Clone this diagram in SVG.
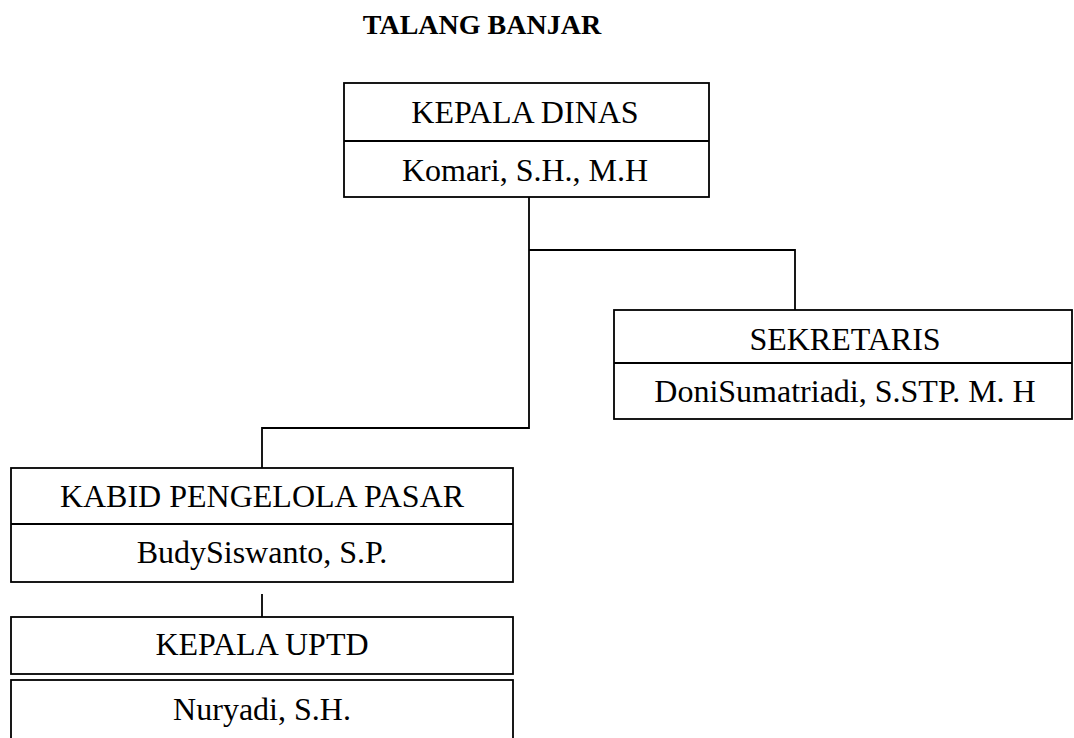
<svg xmlns="http://www.w3.org/2000/svg" width="1074" height="738" viewBox="0 0 1074 738">
<style>
.box{fill:#fff;stroke:#000;stroke-width:1.8}
.ln{fill:none;stroke:#000;stroke-width:1.8}
.t{font-family:"Liberation Serif","Times New Roman",serif;font-size:32px;fill:#000;text-anchor:middle}
.title{font-family:"Liberation Serif","Times New Roman",serif;font-size:28px;font-weight:bold;fill:#000;text-anchor:middle}
</style>
<rect width="1074" height="738" fill="#fff"/>
<text class="title" x="482" y="34">TALANG BANJAR</text>
<g id="connectors">
<path class="ln" d="M529,197 V428 H262 V468"/>
<path class="ln" d="M529,250 H795 V310"/>
<path class="ln" d="M262,594 V617"/>
</g>
<g id="kepala-dinas">
<rect class="box" x="344" y="83" width="365" height="114"/>
<line class="ln" x1="344" y1="141" x2="709" y2="141"/>
<text class="t" x="525" y="123">KEPALA DINAS</text>
<text class="t" x="525" y="181">Komari, S.H., M.H</text>
</g>
<g id="sekretaris">
<rect class="box" x="614" y="310" width="458" height="109"/>
<line class="ln" x1="614" y1="363" x2="1072" y2="363"/>
<text class="t" x="845" y="350">SEKRETARIS</text>
<text class="t" x="845" y="402">DoniSumatriadi, S.STP. M. H</text>
</g>
<g id="kabid">
<rect class="box" x="11" y="468" width="502" height="114"/>
<line class="ln" x1="11" y1="524" x2="513" y2="524"/>
<text class="t" x="262" y="507">KABID PENGELOLA PASAR</text>
<text class="t" x="262" y="563">BudySiswanto, S.P.</text>
</g>
<g id="kepala-uptd">
<rect class="box" x="11" y="617" width="502" height="57"/>
<text class="t" x="262" y="655">KEPALA UPTD</text>
</g>
<g id="nuryadi">
<rect class="box" x="11" y="680" width="502" height="80"/>
<text class="t" x="262" y="720">Nuryadi, S.H.</text>
</g>
</svg>
